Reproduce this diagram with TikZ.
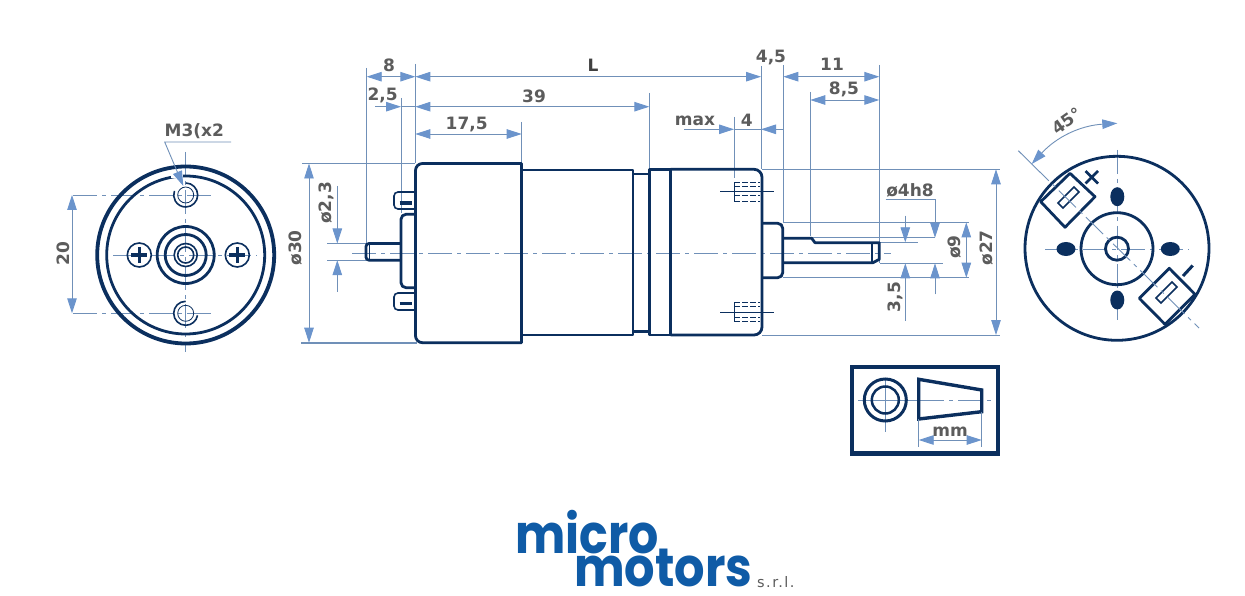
\documentclass[tikz,border=0pt]{standalone}
\usepackage{fontspec}
\setmainfont{DejaVu Sans}
\newfontfamily\logofont{Poppins}[UprightFont=* Bold]
\newfontfamily\srlfont{DejaVu Sans}[LetterSpace=10]
\usetikzlibrary{arrows.meta}
\definecolor{inkdark}{HTML}{0B2F5E}
\definecolor{dimblue}{HTML}{7090B8}
\definecolor{tipblue}{HTML}{6B94CC}
\definecolor{labelgray}{HTML}{5C5C5C}
\definecolor{logoblue}{HTML}{0F5BA6}
\tikzset{
  x=1pt,y=-1pt,
  ink/.style={draw=inkdark,line width=2.8pt,line join=round},
  thick ink/.style={draw=inkdark,line width=3.8pt},
  thin ink/.style={draw=inkdark,line width=1.6pt},
  hair/.style={draw=inkdark,line width=0.8pt},
  hairdash/.style={draw=inkdark,line width=0.8pt,dash pattern=on 6pt off 2pt},
  ext/.style={draw=dimblue,line width=0.9pt},
  axis/.style={draw=dimblue,line width=0.9pt,dash pattern=on 24pt off 5pt on 4pt off 5pt},
  bigtip/.tip={Triangle[length=15pt,width=9.5pt,color=tipblue]},
  dimboth/.style={ext,{bigtip}-{bigtip}},
  dimend/.style={ext,-{bigtip}},
  lab/.style={inner sep=0pt,text=labelgray,font=\fontsize{17}{18}\selectfont\bfseries},
  logo/.style={inner sep=0pt,text=logoblue,font=\fontsize{50}{50}\selectfont\logofont,anchor=base west},
}
\begin{document}
\begin{tikzpicture}
\useasboundingbox[fill=white] (0,0) rectangle (1245,596);

% ---------- left end view
\draw[axis] (113,255) -- (257,255);
\draw[axis] (185.7,152) -- (185.7,352);
\draw[axis] (73,195) -- (214,195);
\draw[axis] (73,313.3) -- (215,313.3);
\draw[thick ink] (185.7,255) circle[radius=88.5pt];
\draw[ink] (185.7,255) circle[radius=79pt];
\draw[ink] (185.7,255) circle[radius=28.5pt];
\draw[ink] (185.7,255) circle[radius=20.5pt];
\draw[thin ink] (185.7,255) circle[radius=11.5pt];
\draw[thin ink] (185.7,255) circle[radius=8pt];
\foreach \cx in {139.3,237.3}{
  \draw[thin ink] (\cx,255) circle[radius=12pt];
  \draw[inkdark,line width=3pt] (\cx-8,255) -- (\cx+8,255) (\cx,247) -- (\cx,263);
}
\foreach \cy in {195,313.3}{
  \draw[hair] (185.7,\cy) circle[radius=8pt];
}
\draw[thin ink] (185.7,183) arc[start angle=90,end angle=-200,radius=12pt];
\draw[thin ink] (185.7,301.3) arc[start angle=90,end angle=350,radius=12pt];
\draw[dimboth] (72,195) -- (72,313.3);
\node[lab,rotate=90] (d20) at (63,254) {20};
\fill[white] (171,171) rectangle (183,178);
\draw[dimend] (231,142) -- (164.7,142) -- (183.3,186);
\node[lab] (m3) at (194.3,131) {M3(x2};

% ---------- extension lines of the side view
\draw[axis] (352,253.3) -- (891,253.3);
\draw[ext] (366.7,68) -- (366.7,243);
\draw[ext] (401,98) -- (401,213);
\draw[ext] (415.3,64) -- (415.3,163);
\draw[ext] (521.7,122) -- (521.7,163);
\draw[ext] (649.3,93) -- (649.3,169);
\draw[ext] (761,66) -- (761,169);
\draw[ext] (783.3,65) -- (783.3,222);
\draw[ext] (810.3,92) -- (810.3,236);
\draw[ext] (879.3,65) -- (879.3,263);
\draw[ext] (734,117) -- (734,178);
\draw[ext] (302,163.3) -- (415,163.3);
\draw[draw=dimblue,line width=2pt] (301,342.7) -- (417,342.7);
\draw[ext] (762,169.3) -- (1000,169.3);
\draw[ext] (762,335) -- (1000,335);
\draw[ext] (327,243.5) -- (366,243.5);
\draw[ext] (327,260.2) -- (366,260.2);
\draw[ext] (783,222.4) -- (969,222.4);
\draw[ext] (783,277.7) -- (969,277.7);
\draw[ext] (812,237.7) -- (935,237.7);
\draw[ext] (880,242.3) -- (918,242.3);
\draw[ext] (880,263.3) -- (943,263.3);

% ---------- dimensions
\draw[dimboth] (366.7,76.7) -- (415.3,76.7);
\draw[dimboth] (415.3,76.7) -- (761,76.7);
\draw[dimboth] (783.3,76.7) -- (879.3,76.7);
\draw[dimboth] (810.3,100) -- (879.3,100);
\draw[dimend] (375,106.7) -- (401,106.7);
\draw[ext] (401,106.7) -- (415.3,106.7);
\draw[dimboth] (415.3,106.7) -- (649.3,106.7);
\draw[dimboth] (415.3,134) -- (521.7,134);
\draw[dimend] (684,129.3) -- (734,129.3);
\draw[ext] (734,129.3) -- (761,129.3);
\draw[dimend] (783.3,129.3) -- (761,129.3);
\draw[dimboth] (309,163.5) -- (309,342.7);
\draw[dimend] (337.3,186) -- (337.3,243.5);
\draw[dimend] (337.3,291.7) -- (337.3,260.2);
\draw[dimboth] (996,169.3) -- (996,335);
\draw[dimboth] (966.3,222.4) -- (966.3,277.7);
\draw[dimend] (885.7,199) -- (935,199) -- (935,237.7);
\draw[dimend] (935,294.3) -- (935,263.3);
\draw[dimend] (905.3,215.7) -- (905.3,242.3);
\draw[dimend] (905.3,320.7) -- (905.3,263.3);

% ---------- motor, side view
\draw[ink] (521.5,163.5) [rounded corners=7pt] -- (415.5,163.5) -- (415.5,342.7) [sharp corners] -- (521.5,342.7) -- cycle;
\draw[ink] (521.5,170) -- (633,170) -- (633,335) -- (521.5,335);
\draw[ink] (633,174) -- (649.3,174) (633,331.7) -- (649.3,331.7);
\draw[ink] (670.5,169.3) -- (649.3,169.3) -- (649.3,335) -- (670.5,335);
\draw[thick ink] (670.5,169.3) -- (670.5,335);
\draw[ink] (670.5,169.3) [rounded corners=8pt] -- (762,169.3) -- (762,335) [sharp corners] -- (670.5,335);
\draw[ink] (415.5,214.3) [rounded corners=5pt] -- (401,214.3) -- (401,287.7) [sharp corners] -- (415.5,287.7);
\draw[ink] (401,243.5) [rounded corners=3pt] -- (366,243.5) -- (366,260.2) [sharp corners] -- (401,260.2);
\draw[thin ink] (369.5,244) -- (369.5,260);
\foreach \cy in {192,293}{
  \draw[thin ink] (415,\cy) [rounded corners=4pt] -- (394,\cy) -- (394,\cy+17) [sharp corners] -- (415,\cy+17);
}
\draw[inkdark,line width=3.4pt] (399.5,203) -- (412,203) (399.5,303.7) -- (412,303.7);
\draw[ink] (762,223.3) [rounded corners=5pt] -- (782.7,223.3) -- (782.7,277.7) [sharp corners] -- (762,277.7);
\draw[ink] (782.7,238.3) -- (811.7,238.3) -- (815,242.7) -- (879.3,242.7) -- (879.3,259.3) -- (873,262.7) -- (782.7,262.7);
\draw[thin ink] (872,243) -- (872,262.5);
\foreach \cy/\sa/\sb/\sc/\sd in {191/182.7/186.7/195.7/201, 312.3/302.7/306.7/317.3/321.7}{
  \draw[hair] (720,\cy) -- (774,\cy);
  \draw[hair] (734.3,\sa) -- (734.3,\sd);
  \draw[hairdash] (734.3,\sa) -- (760,\sa) (734.3,\sb) -- (760,\sb) (734.3,\sc) -- (760,\sc) (734.3,\sd) -- (760,\sd);
}

% ---------- side view labels
\node[lab] (l8) at (389,65.7) {8};
\node[lab,text=black!75] (lL) at (593,65) {L};
\node[lab] (l45) at (771,58) {4,5};
\node[lab] (l11) at (832,64) {11};
\node[lab] (l85) at (844,89) {8,5};
\node[lab] (l25) at (382.7,95) {2,5};
\node[lab] (l39) at (534,96.7) {39};
\node[lab] (l175) at (466.7,125) {17,5};
\node[lab] (lmax) at (695,120.7) {max};
\node[lab] (l4) at (746.7,120) {4};
\node[lab,rotate=90] (l30) at (296,248) {ø30};
\node[lab,rotate=90] (l23) at (326.7,203) {ø2,3};
\node[lab] (l4h8) at (910,190) {ø4h8};
\node[lab,rotate=90] (l9) at (955,247) {ø9};
\node[lab,rotate=90] (l27) at (986.7,248) {ø27};
\node[lab,rotate=90] (l35) at (895,297) {3,5};

% ---------- right end view
\draw[axis] (1117,150) -- (1117,320);
\draw[axis] (1045,249) -- (1189,249);
\draw[ink] (1117,248.3) circle[radius=92pt];
\draw[ink] (1117,248.7) circle[radius=36pt];
\draw[ink] (1117,248.7) circle[radius=11.5pt];
\fill[inkdark] (1117.3,196.7) ellipse[x radius=7pt,y radius=9.5pt];
\fill[inkdark] (1117.3,300) ellipse[x radius=7pt,y radius=9.5pt];
\fill[inkdark] (1066,249) ellipse[x radius=9.5pt,y radius=7pt];
\fill[inkdark] (1170.3,249) ellipse[x radius=9.5pt,y radius=7pt];
\draw[ink] (1070,173.3) -- (1095,196.7) -- (1065,227.3) -- (1040.7,201.7) -- cycle;
\draw[ink] (1169.3,268.3) -- (1195,294.3) -- (1165,324.3) -- (1139.3,298.3) -- cycle;
\draw[thin ink] (1074,187) -- (1079,192) -- (1063,208) -- (1058,203) -- cycle;
\draw[thin ink] (1172,282) -- (1177,287) -- (1161,303) -- (1156,298) -- cycle;
\draw[inkdark,line width=2.6pt] (1085.5,171) -- (1098,183.5) (1098,171) -- (1085.5,183.5);
\draw[inkdark,line width=3pt] (1183,276) -- (1192.7,265.5);
\draw[ext] (1018.3,150.7) -- (1031.7,164);
\draw[axis] (1031.7,164) -- (1199,328);
\draw[ext,{bigtip}-{bigtip}] (1031.7,164) to[bend left=22] (1117.3,123.3);
\node[lab,rotate=35] (l45deg) at (1066.7,121) {45°};

% ---------- taper legend
\draw[draw=inkdark,line width=4.3pt] (852,367) rectangle (998,453.5);
\draw[ext] (858,400) -- (920,400);
\draw[ext] (885.3,378) -- (885.3,431.7);
\draw[axis] (920,400) -- (992,400);
\draw[draw=inkdark,line width=3pt] (885.3,400) circle[radius=21pt];
\draw[draw=inkdark,line width=2.5pt] (885.3,400) circle[radius=13.5pt];
\draw[draw=inkdark,line width=3.4pt,line join=miter] (918.7,379.3) -- (981.7,390) -- (981.7,411.7) -- (918.7,419) -- cycle;
\draw[ext] (918.7,419) -- (918.7,446.7);
\draw[ext] (981.7,411.7) -- (981.7,446.7);
\draw[dimboth] (918.7,440) -- (981.7,440);
\node[lab] (lmm) at (950,432) {mm};

% ---------- logo
\node[logo] (micro) at (515,553.5) {\scalebox{0.95}[1.08]{micro}};
\node[logo] (motors) at (574,586) {\scalebox{0.957}[1.08]{motors}};
\node[inner sep=0pt,anchor=base west,text=labelgray,font=\fontsize{14.5}{14}\selectfont\srlfont] (srl) at (757,587) {s.r.l.};
\end{tikzpicture}
\end{document}
